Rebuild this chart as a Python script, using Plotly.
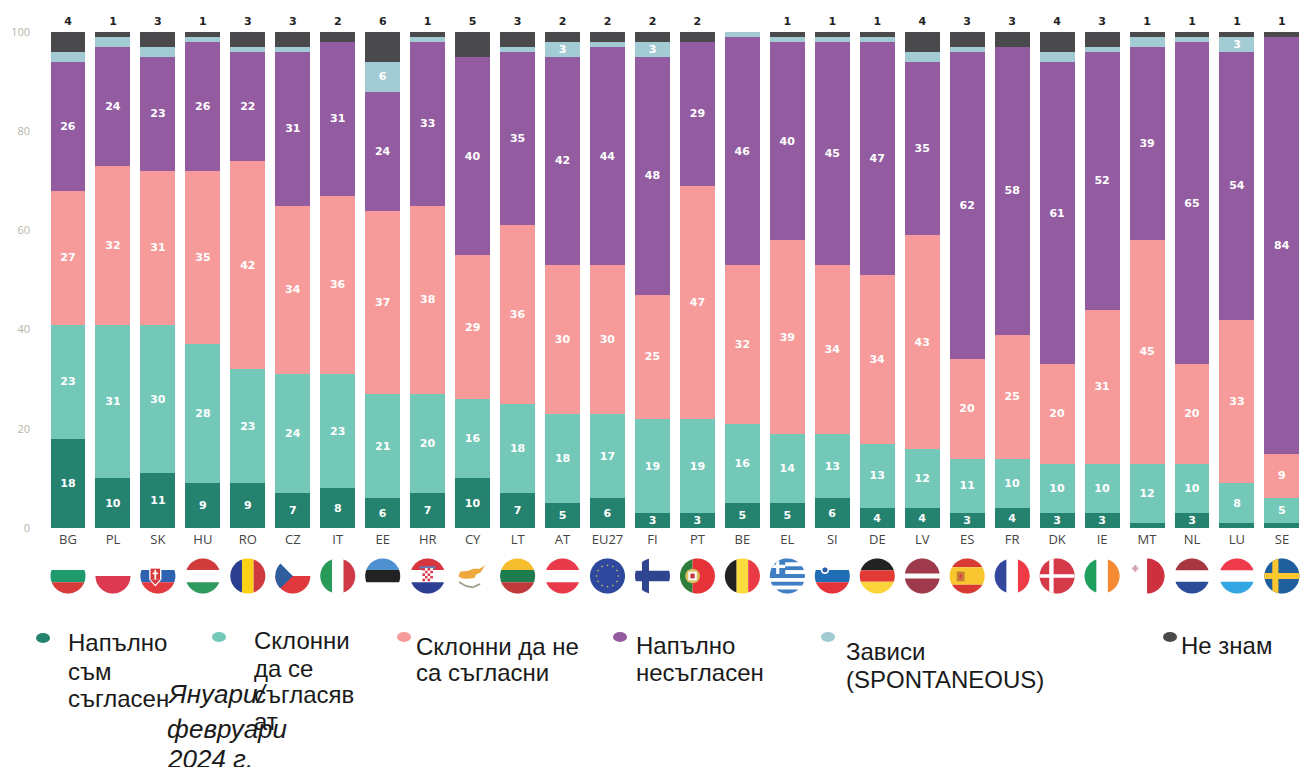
import math
import plotly.graph_objects as go

W, H = 1301, 767
countries = ["BG","PL","SK","HU","RO","CZ","IT","EE","HR","CY","LT","AT","EU27","FI","PT","BE","EL","SI","DE","LV","ES","FR","DK","IE","MT","NL","LU","SE"]
totally_agree    = [18,10,11,9,9,7,8,6,7,10,7,5,6,3,3,5,5,6,4,4,3,4,3,3,1,3,1,1]
tend_agree       = [23,31,30,28,23,24,23,21,20,16,18,18,17,19,19,16,14,13,13,12,11,10,10,10,12,10,8,5]
tend_disagree    = [27,32,31,35,42,34,36,37,38,29,36,30,30,25,47,32,39,34,34,43,20,25,20,31,45,20,33,9]
totally_disagree = [26,24,23,26,22,31,31,24,33,40,35,42,44,48,29,46,40,45,47,35,62,58,61,52,39,65,54,84]
depends          = [2,2,2,1,1,1,0,6,1,0,1,3,1,3,0,1,1,1,1,2,1,0,2,1,2,1,3,0]
dont_know        = [4,1,3,1,3,3,2,6,1,5,3,2,2,2,2,0,1,1,1,4,3,3,4,3,1,1,1,1]

series_names = ["Напълно съм съгласен","Склонни да се съгласяват","Склонни да не са съгласни","Напълно несъгласен","Зависи (SPONTANEOUS)","Не знам"]
series_values = [totally_agree, tend_agree, tend_disagree, totally_disagree, depends, dont_know]
colors = ["#25826f","#73c8b8","#f79b9a","#935ca0","#a3cbd4","#4a4a4c"]
legend_lines = [["Напълно","съм","съгласен"],["Склонни","да се","съгласяв","ат"],["Склонни да не","са съгласни"],["Напълно","несъгласен"],["Зависи","(SPONTANEOUS)"],["Не знам"]]
legend_text_x = [67,253,415,635,845,1180]
legend_text_y = [[642,671,698],[640,668,694,721],[646,672],[645,672],[651,679],[645]]
legend_mark_pos = [(43,638),(219,637),(404,637),(620,637),(828,637),(1170,637)]
period_note = ["Януари/","февруари","2024 г."]
period_y = [694,729,759]

# pixel geometry
X0, DX = 68, 44.96
Y100, Y0 = 32, 528
LEFT = 31
FLAG_Y, FLAG_R = 576, 17.5

fig = go.Figure()
for i, (name, vals, col) in enumerate(zip(series_names, series_values, colors)):
    if i == 5:
        text = None
    else:
        text = [str(v) if v >= 3 else "" for v in vals]
    fig.add_bar(x=countries, y=vals, name=name, marker=dict(color=col, line=dict(width=0)),
                text=text, textposition="inside" if text else "none", insidetextanchor="middle",
                textangle=0, constraintext="none",
                textfont=dict(family="DejaVu Sans", size=11, color="white", weight=700),
                showlegend=False, hoverinfo="skip")
fig.add_scatter(x=countries, y=[100]*len(countries), mode="markers+text", cliponaxis=False,
                marker=dict(size=6, opacity=0),
                text=[str(v) if v > 0 else "" for v in dont_know], textposition="top center",
                textfont=dict(family="DejaVu Sans", size=11, color="#222222", weight=700),
                showlegend=False, hoverinfo="skip")

# ---------- flags, drawn as clipped polygons ----------
CIRCLE = [(math.cos(2*math.pi*k/72), math.sin(2*math.pi*k/72)) for k in range(72)]

def clip(poly, clipper=CIRCLE):
    out = poly
    n = len(clipper)
    for k in range(n):
        a, b = clipper[k], clipper[(k+1) % n]
        def inside(p):
            return (b[0]-a[0])*(p[1]-a[1]) - (b[1]-a[1])*(p[0]-a[0]) >= 0
        def inter(p, q):
            dx1, dy1 = q[0]-p[0], q[1]-p[1]
            dx2, dy2 = b[0]-a[0], b[1]-a[1]
            t = ((a[0]-p[0])*dy2 - (a[1]-p[1])*dx2) / (dx1*dy2 - dy1*dx2)
            return (p[0]+t*dx1, p[1]+t*dy1)
        res = []
        for j in range(len(out)):
            p, q = out[j], out[(j+1) % len(out)]
            if inside(q):
                if not inside(p):
                    res.append(inter(p, q))
                res.append(q)
            elif inside(p):
                res.append(inter(p, q))
        out = res
        if not out:
            break
    return out

def R(x0, y0, x1, y1, c):
    return ([(x0,y0),(x1,y0),(x1,y1),(x0,y1)], c, True)
def hb(*parts):
    return [R(-1, a, 1, b, c) for a, b, c in parts]
def vb(*parts):
    return [R(a, -1, b, 1, c) for a, b, c in parts]
def disc(cx, cy, r, c, n=14):
    return ([(cx+r*math.cos(2*math.pi*k/n), cy+r*math.sin(2*math.pi*k/n)) for k in range(n)], c, True)

A, B = -0.34, 0.36
GRN = "#1f9a6d"
stars = [disc(0.62*math.cos(2*math.pi*k/12), 0.62*math.sin(2*math.pi*k/12), 0.05, "#c9c05a", 6) for k in range(12)]
greek = [R(-1, -1+2*k/9, 1, -1+2*(k+1)/9, "#3f7fc4" if k % 2 == 0 else "#ffffff") for k in range(9)]
croatia = [R(-0.3+0.15*i, -0.45+0.15*j, -0.15+0.15*i, -0.3+0.15*j, "#dc3545" if (i+j) % 2 == 0 else "#ffffff") for i in range(4) for j in range(5)]
cyprus = [([(-0.82,0.02),(-0.7,-0.25),(-0.3,-0.28),(0.05,-0.42),(0.4,-0.42),(0.72,-0.62),(0.45,-0.2),(0.2,-0.08),(0.1,0.12),(-0.3,0.16),(-0.6,0.15)],"#efa83c",False),
          ([(-0.75,0.3),(-0.4,0.52),(0,0.6),(0.4,0.42),(0.45,0.5),(0,0.7),(-0.4,0.62),(-0.8,0.38)],"#9a9a80",False)]

flags = {
 "BG": hb((A,B,GRN),(B,1,"#d63a3a")),
 "PL": hb((0,1,"#dc3a50")),
 "SK": hb((A,B,"#2f62b0"),(B,1,"#e23a3e")) + [R(-0.5,-0.5,0.2,0.2,"#ffffff"),([(-0.5,0.2),(0.2,0.2),(-0.15,0.6)],"#ffffff",False),R(-0.42,-0.42,0.12,0.2,"#d63a3a"),([(-0.42,0.2),(0.12,0.2),(-0.15,0.5)],"#d63a3a",False),R(-0.2,-0.35,-0.1,0.2,"#ffffff"),R(-0.3,-0.2,0,-0.1,"#ffffff")],
 "HU": hb((-1,A,"#d03c3c"),(B,1,"#2f9a5e")),
 "RO": vb((-1,-0.33,"#2a3f8f"),(-0.33,0.33,"#fbd116"),(0.33,1,"#d03a3f")),
 "CZ": hb((0,1,"#e03a3e")) + [([(-1,-1),(0,0),(-1,1)],"#2f5e9e",True)],
 "IT": vb((-1,-0.33,"#2a9a58"),(0.33,1,"#d03a46")),
 "EE": hb((-1,A,"#4f90d0"),(A,B,"#222222")),
 "HR": hb((-1,A,"#d8363e"),(B,1,"#2c3f92")) + [R(-0.45,-0.55,0.45,-0.42,"#5a7fc0")] + croatia,
 "CY": cyprus,
 "LT": hb((-1,A,"#f6bd2f"),(A,B,"#1e7d4f"),(B,1,"#c0393b")),
 "AT": hb((-1,A,"#e83a4a"),(B,1,"#e83a4a")),
 "EU27": [R(-1,-1,1,1,"#2f479c")] + stars,
 "FI": [R(-0.6,-1,-0.2,1,"#30458f"),R(-1,-0.3,1,0.3,"#30458f")],
 "PT": vb((-1,-0.28,"#2e7d3a"),(-0.28,1,"#e6333a")) + [disc(-0.28,0,0.42,"#d8c060",16),R(-0.52,-0.25,-0.04,0.25,"#ffffff"),R(-0.4,-0.14,-0.16,0.14,"#c2393a")],
 "BE": vb((-1,-0.33,"#222222"),(-0.33,0.33,"#fbdc3c"),(0.33,1,"#ea3a44")),
 "EL": greek + [R(-1,-1,-0.12,-0.12,"#3f7fc4"),R(-0.64,-1,-0.46,-0.12,"#ffffff"),R(-1,-0.64,-0.12,-0.46,"#ffffff")],
 "SI": hb((A,B,"#1f6db5"),(B,1,"#e5333a")) + [disc(-0.42,-0.35,0.24,"#ffffff",14),disc(-0.42,-0.35,0.15,"#2a5ea8",10)],
 "DE": hb((-1,-0.33,"#222222"),(-0.33,0.33,"#e23b36"),(0.33,1,"#fbd33a")),
 "LV": hb((-1,-0.15,"#9e3a4c"),(0.15,1,"#9e3a4c")),
 "ES": hb((-1,-0.5,"#d63a33"),(-0.5,0.5,"#f8c62e"),(0.5,1,"#d63a33")) + [R(-0.6,-0.25,-0.15,0.3,"#c77d3a"),R(-0.45,-0.1,-0.3,0.15,"#d6453a")],
 "FR": vb((-1,-0.33,"#33479c"),(0.33,1,"#ef3a48")),
 "DK": [R(-1,-1,1,1,"#d53a48"),R(-0.45,-1,-0.2,1,"#ffffff"),R(-1,-0.1,1,0.1,"#ffffff")],
 "IE": vb((-1,-0.33,"#1f9e5e"),(0.33,1,"#f58a32")),
 "MT": vb((0,1,"#cf3040")) + [R(-0.75,-0.62,-0.6,-0.25,"#cfa3ad"),R(-0.85,-0.5,-0.5,-0.37,"#cfa3ad")],
 "NL": hb((-1,-0.33,"#a8363f"),(0.33,1,"#2b4a9a")),
 "LU": hb((-1,-0.33,"#ee3a4a"),(0.33,1,"#35a6e4")),
 "SE": [R(-1,-1,1,1,"#1f5f9e"),R(-0.55,-1,-0.2,1,"#fbc72e"),R(-1,-0.17,1,0.17,"#fbc72e")],
}

def px(x): return x / W
def py(y): return 1 - y / H

shapes = []
for i, c in enumerate(countries):
    cx = X0 + DX * i
    for poly, col, do_clip in flags[c]:
        pts = clip(poly) if do_clip else poly
        if not pts:
            continue
        d = "M " + " L ".join(f"{px(cx+p[0]*FLAG_R):.5f} {py(FLAG_Y+p[1]*FLAG_R):.5f}" for p in pts) + " Z"
        shapes.append(dict(type="path", xref="paper", yref="paper", path=d, fillcolor=col, line=dict(width=0), layer="above"))

# legend markers
for (mx, my), col in zip(legend_mark_pos, colors):
    shapes.append(dict(type="circle", xref="paper", yref="paper", x0=px(mx-7), x1=px(mx+7), y0=py(my+5), y1=py(my-5),
                       fillcolor=col, line=dict(width=0)))

annotations = []
LEG_FONT = dict(family="Liberation Sans", size=24, color="#1a1a1a")
NOTE_FONT = dict(family="Liberation Sans", size=26, color="#1a1a1a")
for tx, ys, lines in zip(legend_text_x, legend_text_y, legend_lines):
    for ty, line in zip(ys, lines):
        annotations.append(dict(xref="paper", yref="paper", x=px(tx), y=py(ty), xanchor="left", yanchor="middle", align="left",
                                text=line, showarrow=False, borderpad=0, font=LEG_FONT))
for ty, line in zip(period_y, period_note):
    annotations.append(dict(xref="paper", yref="paper", x=px(166), y=py(ty), xanchor="left", yanchor="middle", align="left",
                            text="<i>"+line+"</i>", showarrow=False, borderpad=0, font=NOTE_FONT))

fig.update_layout(
    width=W, height=H, autosize=False, barmode="stack", bargap=0.222,
    plot_bgcolor="white", paper_bgcolor="white",
    margin=dict(l=0, r=0, t=0, b=0),
    shapes=shapes, annotations=annotations,
    xaxis=dict(domain=[LEFT/W, 1], range=[(LEFT-X0)/DX, (W-X0)/DX], type="category", categoryorder="array",
               categoryarray=countries, showline=False, showgrid=False, zeroline=False, ticks="", automargin=False,
               ticklabelstandoff=2, tickangle=0, tickfont=dict(family="Open Sans", size=13, color="#444444")),
    yaxis=dict(domain=[1-Y0/H, 1-Y100/H], range=[0, 100], tickvals=[0,20,40,60,80,100], showline=False, showgrid=False,
               zeroline=False, ticks="", automargin=False, tickfont=dict(family="Open Sans", size=11, color="#b9b5a8")),
)
fig.write_html("out.html", post_script="document.body.style.margin='0';", config=dict(displayModeBar=False))
